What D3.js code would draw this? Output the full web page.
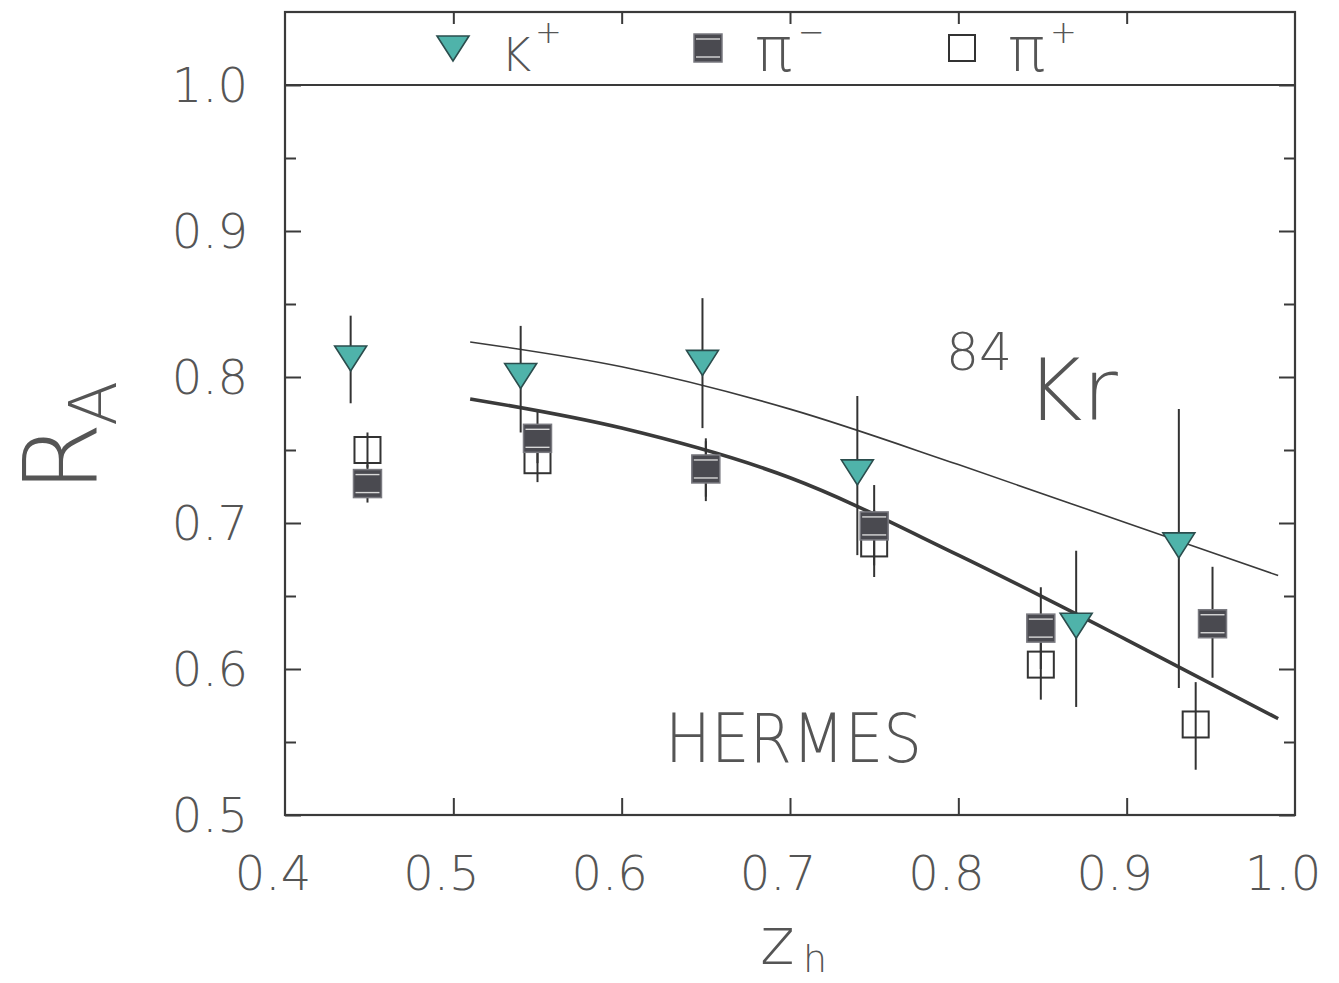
<!DOCTYPE html>
<html><head><meta charset="utf-8">
<script src="https://cdn.jsdelivr.net/npm/d3@7"></script>
<style>
body{margin:0;background:#fff;}
svg text{font-family:"DejaVu Sans","Liberation Sans",sans-serif;font-weight:200;fill:#555;}
</style></head>
<body><svg id="c" width="1339" height="983"></svg>
<script>
// ---- data ----
const xTicks = [0.4, 0.5, 0.6, 0.7, 0.8, 0.9, 1.0];
const yTicks = [0.5, 0.6, 0.7, 0.8, 0.9, 1.0];
const xTickLabels = ["0.4","0.5","0.6","0.7","0.8","0.9","1.0"];
const yTickLabels = ["0.5","0.6","0.7","0.8","0.9","1.0"];

const kpZ   = [0.439, 0.540, 0.648, 0.740, 0.870, 0.931];
const kpR   = [0.813, 0.801, 0.810, 0.735, 0.630, 0.685];
const kpLo  = [0.782, 0.762, 0.765, 0.678, 0.574, 0.587];
const kpHi  = [0.842, 0.835, 0.854, 0.787, 0.681, 0.778];

const pimZ  = [0.449, 0.550, 0.650, 0.750, 0.849, 0.951];
const pimR  = [0.727, 0.758, 0.737, 0.698, 0.628, 0.631];
const pimLo = [0.714, 0.741, 0.715, 0.671, 0.600, 0.594];
const pimHi = [0.740, 0.776, 0.758, 0.726, 0.656, 0.670];

const pipZ  = [0.449, 0.550, 0.650, 0.750, 0.849, 0.941];
const pipR  = [0.750, 0.743, 0.737, 0.686, 0.603, 0.562];
const pipLo = [0.738, 0.728, 0.718, 0.663, 0.579, 0.531];
const pipHi = [0.762, 0.758, 0.756, 0.709, 0.627, 0.591];

const curveZ     = [0.51, 0.60, 0.70, 0.80, 0.90, 0.99];
const thinCurveR = [0.824, 0.807, 0.778, 0.740, 0.700, 0.664];
const thickCurveR= [0.785, 0.765, 0.731, 0.678, 0.620, 0.566];

const legendNames = [["K","+"],["π","−"],["π","+"]];

// ---- layout ----
const svg = d3.select("#c");
const L = 285, R = 1295, T = 12, B = 815;
const x = d3.scaleLinear().domain([0.4, 1.0]).range([L, R]);
const y = d3.scaleLinear().domain([0.5, 1.05]).range([B, T]);

// frame
svg.append("rect").attr("x", L).attr("y", T).attr("width", R - L).attr("height", B - T)
  .attr("fill", "none").attr("stroke", "#3a3a3a").attr("stroke-width", 2.2);
// line at 1.0
svg.append("line").attr("x1", L).attr("x2", R).attr("y1", y(1.0)).attr("y2", y(1.0))
  .attr("stroke", "#3a3a3a").attr("stroke-width", 2.2);

// axes via d3
const yMinor = d3.range(0.5, 1.001, 0.05).map(v => +v.toFixed(2));
const gL = svg.append("g").attr("transform", `translate(${L},0)`);
gL.call(d3.axisRight(y).tickValues(yMinor).tickSize(0).tickFormat(""));
gL.select(".domain").remove();
gL.selectAll(".tick line").attr("x2", d => (Math.round(d*100) % 10 === 0) ? 16 : 11)
  .attr("stroke", "#3a3a3a").attr("stroke-width", 2);
const gR = svg.append("g").attr("transform", `translate(${R},0)`);
gR.call(d3.axisLeft(y).tickValues(yMinor).tickSize(0).tickFormat(""));
gR.select(".domain").remove();
gR.selectAll(".tick line").attr("x2", d => (Math.round(d*100) % 10 === 0) ? -16 : -11)
  .attr("stroke", "#3a3a3a").attr("stroke-width", 2);

const innerX = xTicks.slice(1, -1);
const gB = svg.append("g").attr("transform", `translate(0,${B})`);
gB.call(d3.axisTop(x).tickValues(innerX).tickSize(17).tickFormat(""));
gB.select(".domain").remove();
gB.selectAll(".tick line").attr("stroke", "#3a3a3a").attr("stroke-width", 2);
const gT = svg.append("g").attr("transform", `translate(0,${T})`);
gT.call(d3.axisBottom(x).tickValues(innerX).tickSize(12).tickFormat(""));
gT.select(".domain").remove();
gT.selectAll(".tick line").attr("stroke", "#3a3a3a").attr("stroke-width", 2);

// tick labels
svg.append("g").selectAll("text").data(xTicks).join("text")
  .attr("x", d => x(d) - 12).attr("y", 890).attr("text-anchor", "middle")
  .attr("font-size", 48).text((d, i) => xTickLabels[i]);
svg.append("g").selectAll("text").data(yTicks).join("text")
  .attr("x", 248).attr("y", d => y(d)).attr("dy", "0.36em").attr("text-anchor", "end")
  .attr("font-size", 48).text((d, i) => yTickLabels[i]);

// axis titles
svg.append("text").attr("transform", "translate(97,493) rotate(-90)").attr("font-size", 102).text("R");
svg.append("text").attr("transform", "translate(116,426) rotate(-90)").attr("font-size", 66).text("A");
svg.append("text").attr("x", 760).attr("y", 964).attr("font-size", 66).text("z");
svg.append("text").attr("x", 803).attr("y", 972).attr("font-size", 38).text("h");

// annotations
svg.append("text").attr("x", 946).attr("y", 370).attr("font-size", 52).text("84");
svg.append("text").attr("x", 1026).attr("y", 420).attr("font-size", 86).text("Kr");
svg.append("text").attr("x", 665).attr("y", 762).attr("font-size", 67)
  .attr("textLength", 257).attr("lengthAdjust", "spacingAndGlyphs").text("HERMES");

// curves
const line = d3.line().x(d => x(d[0])).y(d => y(d[1])).curve(d3.curveMonotoneX);
svg.append("path").attr("d", line(curveZ.map((z, i) => [z, thinCurveR[i]])))
  .attr("fill", "none").attr("stroke", "#3a3a3a").attr("stroke-width", 1.6);
svg.append("path").attr("d", line(curveZ.map((z, i) => [z, thickCurveR[i]])))
  .attr("fill", "none").attr("stroke", "#3a3a3a").attr("stroke-width", 3.6);

// markers
const triPath = "M-16,-12 L16,-12 L0,13 Z";
function drawTri(g, cx, cy) {
  g.append("path").attr("d", triPath).attr("transform", `translate(${cx},${cy})`)
    .attr("fill", "#4fb3aa").attr("stroke", "#2b4d4d").attr("stroke-width", 1.6);
}
function drawFilled(g, cx, cy) {
  const s = g.append("g").attr("transform", `translate(${cx},${cy})`);
  s.append("rect").attr("x", -14).attr("y", -14).attr("width", 28).attr("height", 28)
    .attr("fill", "#4a4a50").attr("stroke", "#7a7a80").attr("stroke-width", 1.5);
  s.append("line").attr("x1", -12).attr("x2", 12).attr("y1", -9).attr("y2", -9).attr("stroke", "#d8d8d8").attr("stroke-width", 1.4);
  s.append("line").attr("x1", -12).attr("x2", 12).attr("y1", 9).attr("y2", 9).attr("stroke", "#d8d8d8").attr("stroke-width", 1.4);
}
function drawOpen(g, cx, cy) {
  g.append("rect").attr("x", cx - 13).attr("y", cy - 13).attr("width", 26).attr("height", 26)
    .attr("fill", "none").attr("stroke", "#333").attr("stroke-width", 2);
}
function drawSeries(zs, rs, lo, hi, fn) {
  const g = svg.append("g");
  zs.forEach((z, i) => {
    g.append("line").attr("x1", x(z)).attr("x2", x(z)).attr("y1", y(lo[i])).attr("y2", y(hi[i]))
      .attr("stroke", "#333").attr("stroke-width", 2);
  });
  zs.forEach((z, i) => fn(g, x(z), y(rs[i])));
}
drawSeries(pipZ, pipR, pipLo, pipHi, drawOpen);
drawSeries(pimZ, pimR, pimLo, pimHi, drawFilled);
drawSeries(kpZ, kpR, kpLo, kpHi, drawTri);

// legend
const lg = svg.append("g");
const legX = [453, 708, 962];
const legFns = [drawTri, drawFilled, drawOpen];
const legTextX = [501, 755, 1008];
const legTextSize = [46, 62, 62];
const legSupX = [535, 798, 1050];
legendNames.forEach((nm, i) => {
  legFns[i](lg, legX[i], 48);
  lg.append("text").attr("x", legTextX[i]).attr("y", 71).attr("font-size", legTextSize[i]).text(nm[0]);
  lg.append("text").attr("x", legSupX[i]).attr("y", 43).attr("font-size", 32).text(nm[1]);
});
</script></body></html>
